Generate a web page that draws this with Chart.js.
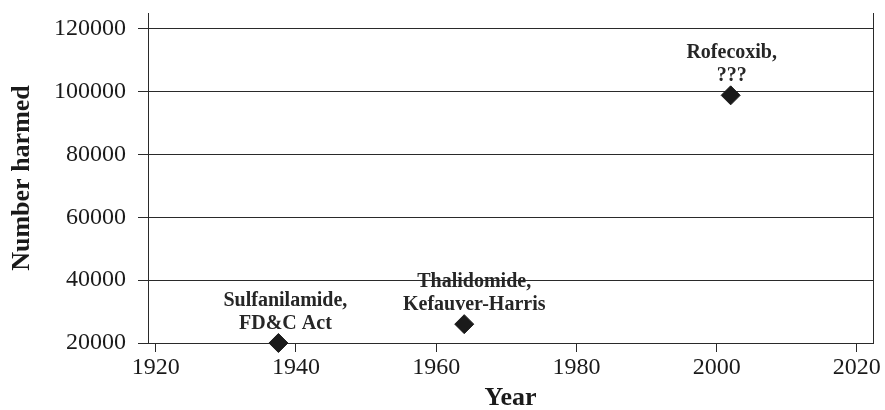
<!DOCTYPE html>
<html>
<head>
<meta charset="utf-8">
<script src="https://cdn.jsdelivr.net/npm/chart.js@4.4.1/dist/chart.umd.min.js"></script>
<style>
  html, body { margin: 0; padding: 0; background: #ffffff; }
  #c { display: block; }
</style>
</head>
<body>
<canvas id="c" width="885" height="410"></canvas>
<script>
// ---- data ----
const years = [1937.5, 1964, 2002];
const harmed = [20000, 26000, 98800];
const pointLabels = [
  ["Sulfanilamide,", "FD&C Act"],
  ["Thalidomide,", "Kefauver-Harris"],
  ["Rofecoxib,", "???"]
];
const xTicks = [1920, 1940, 1960, 1980, 2000, 2020];
const yTicks = [20000, 40000, 60000, 80000, 100000, 120000];
const xTitle = "Year";
const yTitle = "Number harmed";

const points = years.map((x, i) => ({ x: x, y: harmed[i] }));

const SERIF = "'Liberation Serif', 'Times New Roman', serif";
const INK = '#1a1a1a';
const LINE = '#2a2a2a';

const labelPlugin = {
  id: 'pointLabels',
  afterDatasetsDraw(chart, args, opts) {
    const ctx = chart.ctx;
    const meta = chart.getDatasetMeta(0);
    ctx.save();
    ctx.font = 'bold 20px ' + SERIF;
    ctx.fillStyle = '#262626';
    ctx.textAlign = 'center';
    ctx.textBaseline = 'alphabetic';
    meta.data.forEach((el, i) => {
      const lines = pointLabels[i];
      const cx = el.x + (opts.dx[i] || 0);
      let baseY = el.y - opts.gap;
      for (let k = lines.length - 1; k >= 0; k--) {
        ctx.fillText(lines[k], cx, baseY);
        baseY -= opts.lineStep;
      }
    });
    ctx.restore();
  }
};

new Chart(document.getElementById('c'), {
  type: 'scatter',
  data: {
    datasets: [{
      data: points,
      pointStyle: 'rectRot',
      pointRadius: 9.5,
      pointHoverRadius: 9.5,
      backgroundColor: INK,
      borderColor: INK,
      borderWidth: 1,
      clip: false
    }]
  },
  options: {
    responsive: false,
    animation: false,
    events: [],
    layout: { padding: { top: 13, left: 0, right: 0, bottom: 0 } },
    plugins: {
      legend: { display: false },
      tooltip: { enabled: false },
      pointLabels: { dx: [7, 10, 1], gap: 14, lineStep: 23 }
    },
    scales: {
      x: {
        type: 'linear',
        position: 'bottom',
        min: 1918.9,
        max: 2022.3,
        afterBuildTicks: (s) => { s.ticks = xTicks.map(v => ({ value: v })); },
        afterFit: (s) => { s.height = 67; s.paddingLeft = 0; s.paddingRight = 0; },
        grid: {
          drawOnChartArea: false,
          drawTicks: true,
          tickLength: 9,
          tickColor: LINE,
          color: LINE,
          lineWidth: 1
        },
        border: { display: true, color: LINE, width: 1 },
        ticks: {
          padding: 1,
          color: INK,
          font: { family: SERIF, size: 24 },
          maxRotation: 0,
          autoSkip: false,
          callback: (v) => String(v)
        },
        title: {
          display: true,
          text: xTitle,
          color: INK,
          font: { family: SERIF, size: 26, weight: 'bold', lineHeight: 0.9 },
          padding: { top: 0, bottom: 0 }
        }
      },
      y: {
        type: 'linear',
        position: 'left',
        min: 20000,
        max: 125000,
        afterBuildTicks: (s) => { s.ticks = yTicks.map(v => ({ value: v })); },
        afterFit: (s) => { s.width = 148; s.paddingTop = 0; s.paddingBottom = 0; },
        grid: {
          drawOnChartArea: true,
          drawTicks: true,
          tickLength: 10,
          tickColor: LINE,
          color: LINE,
          lineWidth: 1
        },
        border: { display: true, color: LINE, width: 1 },
        ticks: {
          padding: 12,
          color: INK,
          font: { family: SERIF, size: 24 },
          autoSkip: false,
          callback: (v) => String(v)
        },
        title: {
          display: true,
          text: yTitle,
          color: INK,
          font: { family: SERIF, size: 26, weight: 'bold', lineHeight: 0.9 },
          padding: { top: 11, bottom: 0 }
        }
      },
      y2: {
        type: 'linear',
        position: 'right',
        min: 20000,
        max: 125000,
        afterFit: (s) => { s.width = 12; s.paddingTop = 0; s.paddingBottom = 0; },
        grid: { display: false, drawOnChartArea: false, drawTicks: false },
        border: { display: true, color: LINE, width: 1 },
        ticks: { display: false }
      }
    }
  },
  plugins: [labelPlugin]
});
</script>
</body>
</html>
